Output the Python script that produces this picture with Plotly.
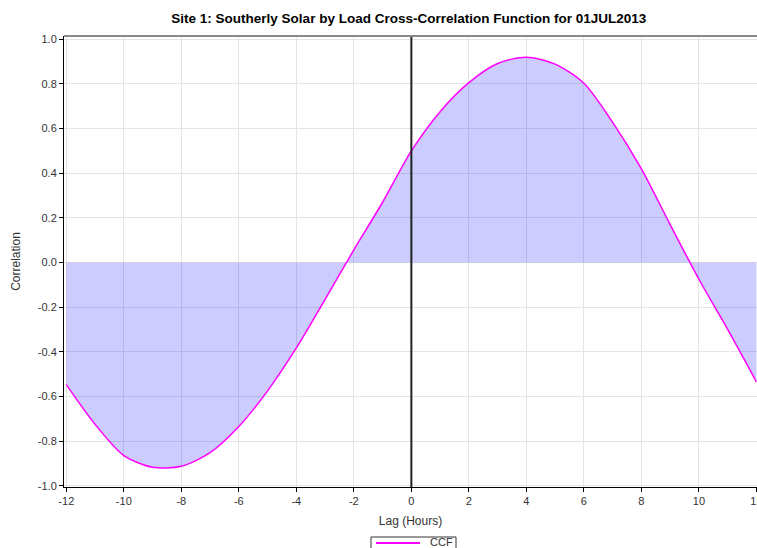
import plotly.graph_objects as go

lag_hours = [-12, -11, -10, -9, -8, -7, -6, -5, -4, -3, -2, -1, 0,
             1, 2, 3, 4, 5, 6, 7, 8, 9, 10, 11, 12]
ccf = [-0.547, -0.725, -0.865, -0.918, -0.913, -0.852, -0.735, -0.575,
       -0.383, -0.165, 0.057, 0.270, 0.500, 0.676, 0.806, 0.892, 0.920,
       0.889, 0.803, 0.628, 0.420, 0.170, -0.075, -0.300, -0.535]

x_tickvals = [-12, -10, -8, -6, -4, -2, 0, 2, 4, 6, 8, 10, 12]
x_ticktext = ["-12", "-10", "-8", "-6", "-4", "-2", "0", "2", "4", "6", "8", "10", "12"]
y_tickvals = [-1.0, -0.8, -0.6, -0.4, -0.2, 0.0, 0.2, 0.4, 0.6, 0.8, 1.0]
y_ticktext = ["-1.0", "-0.8", "-0.6", "-0.4", "-0.2", "0.0", "0.2", "0.4", "0.6", "0.8", "1.0"]

title_text = "Site 1: Southerly Solar by Load Cross-Correlation Function for 01JUL2013"
series_name = "CCF"

fig = go.Figure()
fig.add_trace(go.Scatter(
    x=lag_hours, y=ccf, name=series_name, mode="lines",
    line=dict(color="#FF00FF", width=1.5, shape="spline", smoothing=0.8),
    fill="tozeroy", fillcolor="rgba(0,0,255,0.2)", showlegend=False,
))

# zero-lag marker and top border
fig.add_shape(type="line", xref="x", yref="paper", x0=0, x1=0, y0=0, y1=1,
              line=dict(color="#222222", width=2), layer="above")
fig.add_shape(type="line", xref="paper", yref="paper", x0=0, x1=1, y0=1, y1=1,
              line=dict(color="#888888", width=2), layer="above")

# legend box drawn below the plot (paper coordinates)
plot_h = 548 - 36 - 61
plot_w = 757 - 64
def px_x(p):
    return (p - 64) / plot_w
def px_y(p):
    return (548 - 61 - p) / plot_h

fig.add_shape(type="rect", xref="paper", yref="paper",
              x0=px_x(371), x1=px_x(456), y0=px_y(560), y1=px_y(537),
              line=dict(color="#333333", width=1), fillcolor="white", layer="above")
fig.add_shape(type="line", xref="paper", yref="paper",
              x0=px_x(376), x1=px_x(420), y0=px_y(543), y1=px_y(543),
              line=dict(color="#FF00FF", width=2), layer="above")
fig.add_annotation(text=series_name, xref="paper", yref="paper",
                   x=px_x(428), y=px_y(542), xanchor="left", yanchor="middle",
                   showarrow=False, font=dict(size=11, color="#333333"))

fig.update_layout(
    width=757, height=548,
    margin=dict(l=64, r=0, t=36, b=61, autoexpand=False),
    paper_bgcolor="white", plot_bgcolor="white",
    font=dict(family="Liberation Sans, Arial, sans-serif", size=11, color="#333333"),
    title=dict(text="<b>" + title_text + "</b>", x=0.540, xanchor="center",
               y=0.967, yanchor="middle",
               font=dict(size=13.5, color="#000000")),
    showlegend=False,
    xaxis=dict(range=[-12.08, 12.02], tickvals=x_tickvals, ticktext=x_ticktext,
               ticklabeloverflow="allow",
               showgrid=True, gridcolor="#e4e4e4", gridwidth=1, zeroline=False,
               showline=True, linecolor="#000000", linewidth=1,
               ticks="outside", ticklen=4, tickcolor="#000000",
               title=dict(text="Lag (Hours)", standoff=10, font=dict(size=12))),
    yaxis=dict(range=[-1.006, 1.015], tickvals=y_tickvals, ticktext=y_ticktext,
               showgrid=True, gridcolor="#e4e4e4", gridwidth=1, zeroline=False,
               showline=True, linecolor="#000000", linewidth=1,
               ticks="outside", ticklen=4, tickcolor="#000000",
               title=dict(text="Correlation", standoff=14, font=dict(size=12))),
)

fig.write_html("out.html", config={"displayModeBar": False},
               post_script="document.body.style.margin='0';document.body.style.overflow='hidden';")
